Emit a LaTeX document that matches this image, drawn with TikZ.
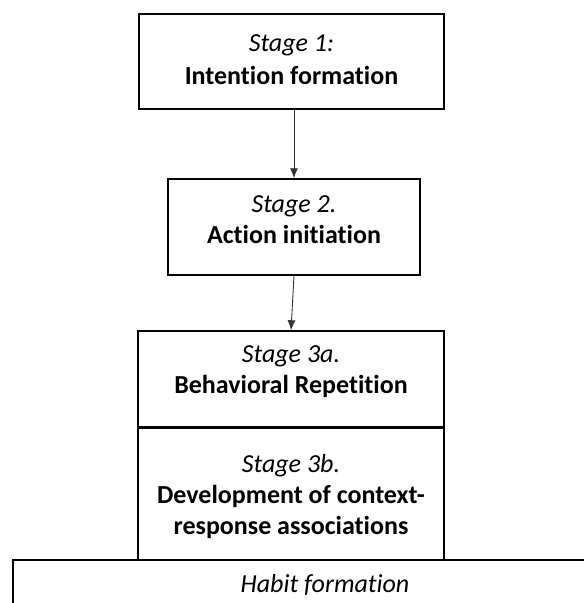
\documentclass[tikz,border=0pt]{standalone}
\usepackage{fontspec}
\setmainfont[Ligatures=NoCommon]{Carlito}
\usetikzlibrary{arrows.meta,calc}
\begin{document}
\begin{tikzpicture}[x=1pt,y=-1pt,
  stagebox/.style={draw=black, line width=1.5pt, rectangle, inner sep=0pt, fill=white},
  stagetext/.style={align=center, font=\fontsize{26}{31}\selectfont, inner sep=0pt},
  flow/.style={draw=black!80, line width=0.9pt, -{Latex[length=10pt,width=8pt]}}
]
\useasboundingbox (0,0) rectangle (584,603);
\clip (0,0) rectangle (584,603);
\fill[white] (0,0) rectangle (584,603);

% boxes
\node[stagebox, minimum width=305pt, minimum height=95pt] (s1) at (291.5,61.5) {};
\node[stagebox, minimum width=252pt, minimum height=96pt] (s2) at (294,227) {};
\node[stagebox, minimum width=306pt, minimum height=96pt] (s3a) at (291,379) {};
\node[stagebox, minimum width=306pt, minimum height=133pt] (s3b) at (291,493.5) {};
\node[stagebox, minimum width=624pt, minimum height=50pt, font=\fontsize{26}{31}\selectfont\itshape] (hab) at (325,585) {Habit formation};
\draw[line width=3pt] (s3a.south west) -- (s3a.south east);

% texts
\node[stagetext] (t1) at (291.5,60) {\textit{Stage 1:}\\[2pt]\textbf{Intention formation}};
\node[stagetext] (t2) at (294,220) {\textit{Stage 2.}\\\textbf{Action initiation}};
\node[stagetext] (t3a) at (291,372) {\textit{Stage 3a.}\\\textbf{Behavioral Repetition}};
\node[stagetext] (t3b) at (291,497) {\textit{Stage 3b.}\\\textbf{Development of context-}\\\textbf{response associations}};

% connectors
\draw[flow] (s2.north |- s1.south) -- (s2.north);
\draw[flow] (s2.south) -- (s3a.north);
\end{tikzpicture}
\end{document}
